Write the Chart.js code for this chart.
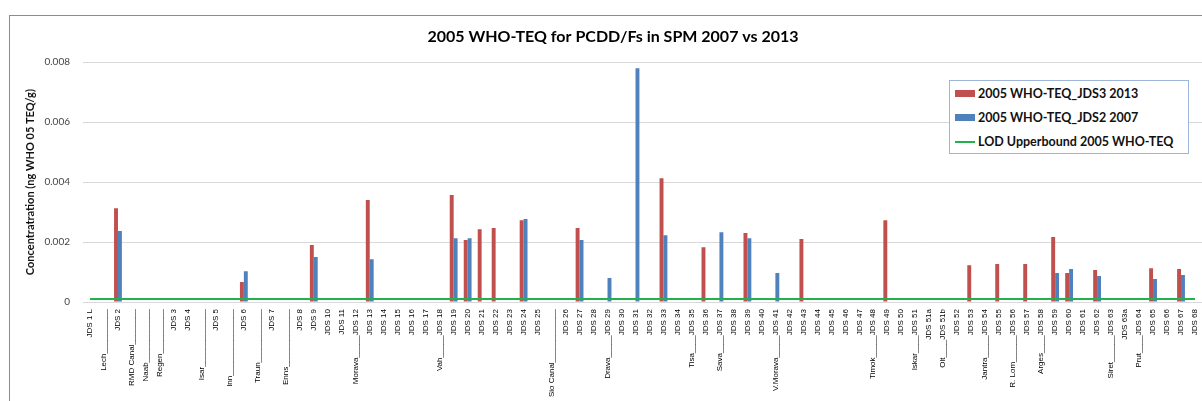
<!DOCTYPE html>
<html lang="en">
<head>
  <meta charset="UTF-8">
  <title>2005 WHO-TEQ for PCDD/Fs in SPM 2007 vs 2013</title>
  <style>
    html, body { margin: 0; padding: 0; background: #fff; overflow: hidden; }
    .wrap { position: relative; width: 1202px; height: 401px; overflow: hidden; }
    .frame { position: absolute; left: 9px; top: 15px; width: 1300px; height: 500px; border: 1px solid #8c8c8c; }
    canvas { position: absolute; left: 0; top: 0; }
    .legend { position: absolute; left: 949px; top: 80px; width: 238px; height: 72px; border: 1px solid #9db5d8; background: #fff;
              font: bold 12.5px Lato, sans-serif; color: #111; }
    .legend .row { position: absolute; left: 5px; height: 14px; line-height: 14px; white-space: nowrap; }
    .legend .sw { display: inline-block; width: 20px; height: 7px; margin-right: 3px; vertical-align: middle; position: relative; top: -1px; }
    .legend .ln { display: inline-block; width: 20px; height: 2px; margin-right: 3px; vertical-align: middle; position: relative; top: -1px; }
  </style>
</head>
<body>
  <script src="https://cdn.jsdelivr.net/npm/chart.js@4.4.1/dist/chart.umd.min.js"></script>

  <div class="wrap">
    <div class="frame"></div>
    <canvas id="chart" width="1202" height="401"></canvas>
    <div class="legend">
      <div class="row" style="top:6px"><span class="sw" style="background:#c0504d"></span>2005 WHO-TEQ_JDS3 2013</div>
      <div class="row" style="top:30px"><span class="sw" style="background:#4f81bd"></span>2005 WHO-TEQ_JDS2 2007</div>
      <div class="row" style="top:54px"><span class="ln" style="background:#22b14c"></span>LOD Upperbound 2005 WHO-TEQ</div>
    </div>
  </div>

  <script>
  // sampling sites along the Danube (tributaries share the label of the nearest JDS site)
  const sites = [
    'JDS 1 L', 'Lech__________', 'JDS 2', 'RMD Canal________', 'Naab____________', 'Regen__________', 'JDS 3', 'JDS 4', 'Isar_____________', 'JDS 5',
    'Inn_______________', 'JDS 6', 'Traun____________', 'JDS 7', 'Enns_____________', 'JDS 8', 'JDS 9', 'JDS 10', 'JDS 11', 'Morava_____JDS 12',
    'JDS 13', 'JDS 14', 'JDS 15', 'JDS 16', 'JDS 17', 'Vah_____JDS 18', 'JDS 19', 'JDS 20', 'JDS 21', 'JDS 22',
    'JDS 23', 'JDS 24', 'JDS 25', 'Sio Canal____________', 'JDS 26', 'JDS 27', 'JDS 28', 'Drava_____JDS 29', 'JDS 30', 'JDS 31',
    'JDS 32', 'JDS 33', 'JDS 34', 'Tisa____JDS 35', 'JDS 36', 'Sava____JDS 37', 'JDS 38', 'JDS 39', 'JDS 40', 'V.Morava_____JDS 41',
    'JDS 42', 'JDS 43', 'JDS 44', 'JDS 45', 'JDS 46', 'JDS 47', 'Timok_____JDS 48', 'JDS 49', 'JDS 50', 'Iskar____JDS 51',
    'JDS 51a', 'Olt____JDS 51b', 'JDS 52', 'JDS 53', 'Jantra_____JDS 54', 'JDS 55', 'R. Lom______JDS 56', 'JDS 57', 'Arges____JDS 58', 'JDS 59',
    'JDS 60', 'JDS 61', 'JDS 62', 'Siret______JDS 63', 'JDS 63a', 'Prut____JDS 64', 'JDS 65', 'JDS 66', 'JDS 67', 'JDS 68'
  ];

  // ng WHO 05 TEQ/g, JDS3 (2013)
  const teq2013 = [
    null, null, 0.00313, null, null, null, null, null, null, null,
    null, 0.00067, null, null, null, null, 0.0019, null, null, null,
    0.0034, null, null, null, null, null, 0.00357, 0.00207, 0.00243, 0.00247,
    null, 0.00273, null, null, null, 0.00247, null, null, null, null,
    null, 0.00413, null, null, 0.00183, null, null, 0.0023, null, null,
    null, 0.0021, null, null, null, null, null, 0.00273, null, null,
    null, null, null, 0.00123, null, 0.00127, null, 0.00127, null, 0.00217,
    0.00097, null, 0.00107, null, null, null, 0.00113, null, 0.0011, null
  ];

  // ng WHO 05 TEQ/g, JDS2 (2007)
  const teq2007 = [
    null, null, 0.00237, null, null, null, null, null, null, null,
    null, 0.00103, null, null, null, null, 0.0015, null, null, null,
    0.00143, null, null, null, null, null, 0.00213, 0.00213, null, null,
    null, 0.00277, null, null, null, 0.00207, null, 0.0008, null, 0.0078,
    null, 0.00223, null, null, null, 0.00233, null, 0.00213, null, 0.00097,
    null, null, null, null, null, null, null, null, null, null,
    null, null, null, null, null, null, null, null, null, 0.00097,
    0.0011, null, 0.00087, null, null, null, 0.00077, null, 0.0009, null
  ];

  // LOD upperbound, same at every site
  const lodUpper = [
    0.0001, 0.0001, 0.0001, 0.0001, 0.0001, 0.0001, 0.0001, 0.0001, 0.0001, 0.0001,
    0.0001, 0.0001, 0.0001, 0.0001, 0.0001, 0.0001, 0.0001, 0.0001, 0.0001, 0.0001,
    0.0001, 0.0001, 0.0001, 0.0001, 0.0001, 0.0001, 0.0001, 0.0001, 0.0001, 0.0001,
    0.0001, 0.0001, 0.0001, 0.0001, 0.0001, 0.0001, 0.0001, 0.0001, 0.0001, 0.0001,
    0.0001, 0.0001, 0.0001, 0.0001, 0.0001, 0.0001, 0.0001, 0.0001, 0.0001, 0.0001,
    0.0001, 0.0001, 0.0001, 0.0001, 0.0001, 0.0001, 0.0001, 0.0001, 0.0001, 0.0001,
    0.0001, 0.0001, 0.0001, 0.0001, 0.0001, 0.0001, 0.0001, 0.0001, 0.0001, 0.0001,
    0.0001, 0.0001, 0.0001, 0.0001, 0.0001, 0.0001, 0.0001, 0.0001, 0.0001, 0.0001
  ];

  const yTicks = ['0', '0.002', '0.004', '0.006', '0.008'];

  const ctx = document.getElementById('chart').getContext('2d');
  new Chart(ctx, {
    type: 'bar',
    data: {
      labels: sites,
      datasets: [
        { label: '2005 WHO-TEQ_JDS3 2013', data: teq2013, backgroundColor: '#c0504d', order: 1 },
        { label: '2005 WHO-TEQ_JDS2 2007', data: teq2007, backgroundColor: '#4f81bd', order: 1 },
        { type: 'line', label: 'LOD Upperbound 2005 WHO-TEQ', data: lodUpper, borderColor: '#22b14c',
          borderWidth: 2, pointRadius: 0, order: 0 }
      ]
    },
    options: {
      responsive: false,
      animation: false,
      layout: { padding: { left: 24, right: 0, top: 0, bottom: 0 } },
      datasets: { bar: { categoryPercentage: 0.56, barPercentage: 1 } },
      plugins: {
        legend: { display: false },
        tooltip: { enabled: false },
        title: {
          display: true,
          text: '2005 WHO-TEQ for PCDD/Fs in SPM 2007 vs 2013',
          color: '#000',
          font: { family: 'Lato, sans-serif', size: 16, weight: 'bold' },
          padding: { top: 27, bottom: 16 }
        }
      },
      scales: {
        x: {
          grid: { display: false, drawTicks: false },
          border: { color: '#d9d9d9' },
          ticks: {
            autoSkip: false, minRotation: 90, maxRotation: 90, padding: 7,
            color: '#000', font: { family: '"Liberation Sans", sans-serif', size: 8 }
          },
          afterFit: (scale) => {
            scale.height = 99;
            scale.paddingLeft = 0;
            scale.paddingRight = 0;
          }
        },
        y: {
          min: 0,
          max: 0.008,
          grid: { color: '#d9d9d9', drawTicks: false },
          border: { display: false },
          ticks: {
            stepSize: 0.002, padding: 13, color: '#444',
            font: { family: 'Lato, sans-serif', size: 10 },
            callback: (v, i) => yTicks[i]
          },
          title: {
            display: true,
            text: 'Concentratration (ng WHO 05 TEQ/g)',
            color: '#111',
            font: { family: 'Lato, sans-serif', size: 11, weight: 'bold' },
            padding: { top: 0, bottom: 0 }
          },
          afterFit: (scale) => { scale.width = 59 }
        }
      }
    }
  });
  </script>
</body>
</html>
